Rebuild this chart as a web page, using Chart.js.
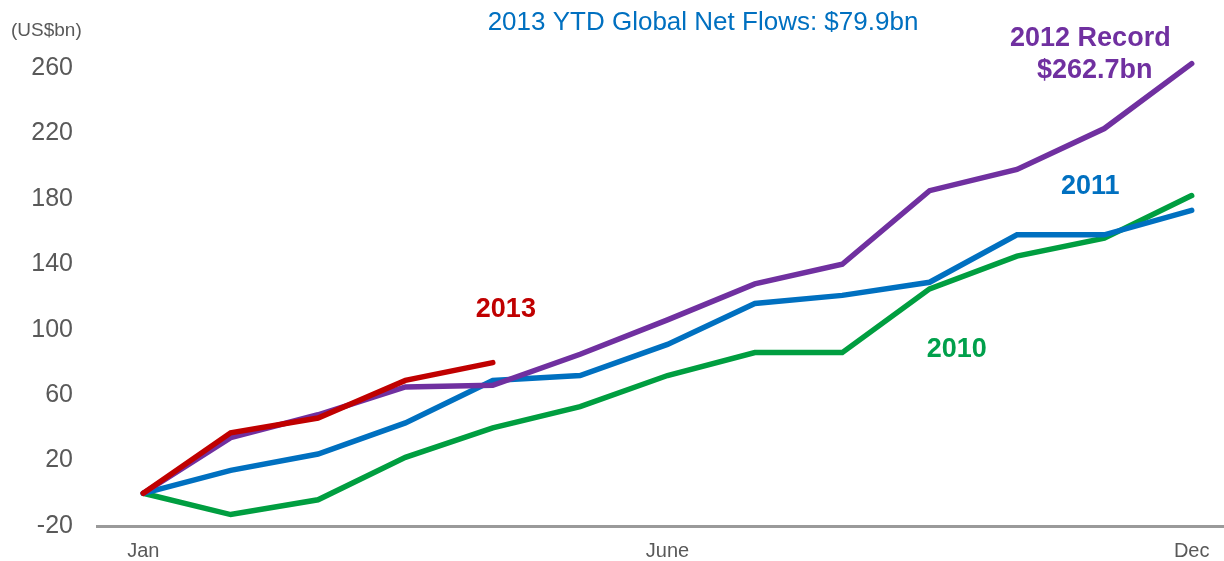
<!DOCTYPE html>
<html>
<head>
<meta charset="utf-8">
<title>Global Net Flows</title>
<script src="https://cdn.jsdelivr.net/npm/chart.js@4/dist/chart.umd.min.js"></script>
<style>
  html, body { margin: 0; padding: 0; background: #fff; }
  #wrap { width: 1224px; height: 561px; position: relative; }
</style>
</head>
<body>
<div id="wrap"><canvas id="flowsChart"></canvas></div>
<script>
// cumulative net flows, one point per month end (index 0 = start of Jan)
const monthIndex = [0, 1, 2, 3, 4, 5, 6, 7, 8, 9, 10, 11, 12];
const flows2010 = [0, -13, -4, 22, 40, 53, 72, 86, 86, 125, 145, 156, 182];
const flows2011 = [0, 14, 24, 43, 69, 72, 91, 116, 121, 129, 158, 158, 173];
const flows2012 = [0, 34, 48, 65, 66, 85, 106, 128, 140, 185, 198, 223, 262.7];
const flows2013 = [0, 37, 46, 69, 79.9];

const tickPositions = [0, 6, 12];
const tickLabels = ['Jan', 'June', 'Dec'];

const FONT = "'Liberation Sans', Arial, sans-serif";
const GREY = '#595959';

const canvas = document.getElementById('flowsChart');
let flowsChart;

const toPoints = (values) => values.map((v, i) => ({ x: monthIndex[i], y: v }));

const serie = (label, values, color) => ({
  label,
  data: toPoints(values),
  borderColor: color,
  backgroundColor: color,
  borderWidth: 5.5,
  pointRadius: 0,
  tension: 0,
  borderJoinStyle: 'miter',
  borderCapStyle: 'round',
  clip: false
});

// text labels next to each line plus heading and unit
const etiquetas = {
  id: 'etiquetas',
  afterDraw(chart) {
    const { ctx, scales: { x, y } } = chart;
    ctx.save();
    ctx.textAlign = 'center';
    ctx.textBaseline = 'middle';

    ctx.font = `26px ${FONT}`;
    ctx.fillStyle = '#0070C0';
    ctx.fillText('2013 YTD Global Net Flows: $79.9bn', 703, 23);

    ctx.font = `19px ${FONT}`;
    ctx.fillStyle = GREY;
    ctx.textAlign = 'left';
    ctx.fillText('(US$bn)', 11, 31);

    ctx.textAlign = 'center';
    ctx.font = `bold 27px ${FONT}`;
    const tags = [
      ['2012 Record', 10.84, 278, '#7030A0'],
      ['$262.7bn', 10.89, 258.7, '#7030A0'],
      ['2011', 10.84, 187.5, '#0070C0'],
      ['2010', 9.31, 87.6, '#00A04B'],
      ['2013', 4.15, 112.6, '#C00000']
    ];
    tags.forEach(([text, xv, yv, color]) => {
      ctx.fillStyle = color;
      ctx.fillText(text, x.getPixelForValue(xv), y.getPixelForValue(yv));
    });
    ctx.restore();
  }
};

const config = {
  type: 'line',
  data: {
    datasets: [
      serie('2013', flows2013, '#C00000'),
      serie('2012', flows2012, '#7030A0'),
      serie('2011', flows2011, '#0070C0'),
      serie('2010', flows2010, '#009E40')
    ]
  },
  options: {
    responsive: false,
    animation: false,
    layout: { padding: { top: 68, right: 0, bottom: 0, left: 0 } },
    plugins: {
      legend: { display: false },
      tooltip: { enabled: false }
    },
    scales: {
      x: {
        type: 'linear',
        min: -0.53,
        max: 12.37,
        grid: { display: false, drawTicks: false },
        border: { display: true, color: '#9A9A9A', width: 3 },
        afterBuildTicks: (scale) => {
          scale.ticks = tickPositions.map((v) => ({ value: v }));
        },
        afterFit: (scale) => { scale.height = 35; },
        ticks: {
          padding: 13,
          color: GREY,
          font: { family: FONT, size: 20 },
          maxRotation: 0,
          autoSkip: false,
          callback: (value) => tickLabels[tickPositions.indexOf(value)]
        }
      },
      y: {
        min: -20,
        max: 260,
        // tick gap comes from tickLength so it does not pad the plot vertically
        grid: { display: false, drawTicks: true, tickLength: 24 },
        border: { display: false },
        afterFit: (scale) => { scale.width = 97; },
        ticks: {
          stepSize: 40,
          padding: 0,
          color: GREY,
          font: { family: FONT, size: 25 }
        }
      }
    }
  },
  plugins: [etiquetas]
};

canvas.width = 1224;
canvas.height = 561;
flowsChart = new Chart(canvas, config);
</script>
</body>
</html>
